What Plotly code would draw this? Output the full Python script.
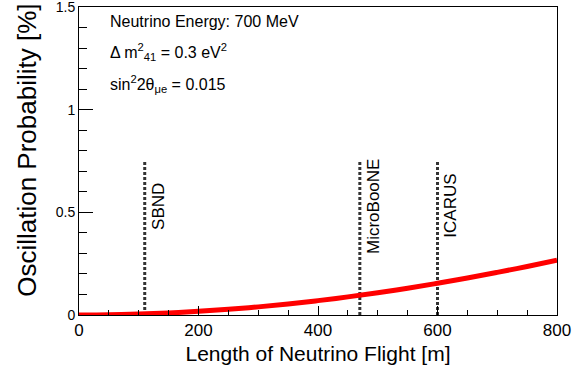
import plotly.graph_objects as go

# flight length [m] and oscillation probability [%]
length_m = [0, 50, 100, 150, 200, 250, 300, 350, 400, 450, 500, 550, 600, 650, 700, 750, 800]
prob_pct = [0.0, 0.0011, 0.0044, 0.0100, 0.0177, 0.0276, 0.0396, 0.0538, 0.0700,
            0.0882, 0.1084, 0.1305, 0.1544, 0.1800, 0.2074, 0.2364, 0.2669]

# detectors
det_names = ["SBND", "MicroBooNE", "ICARUS"]
det_pos = [110, 470, 600]
det_top = 0.75

FONT = "Liberation Sans, Arial, sans-serif"

fig = go.Figure()

for name, xpos in zip(det_names, det_pos):
    fig.add_trace(go.Scatter(
        x=[xpos, xpos], y=[0, det_top],
        mode="lines",
        line=dict(color="#333333", width=3, dash="3px,2px"),
        hoverinfo="none"))
    fig.add_annotation(
        x=xpos, y=0.53, xref="x", yref="y",
        text=name, textangle=-90, showarrow=False,
        xshift=13, font=dict(family=FONT, size=17, color="black"))

fig.add_trace(go.Scatter(
    x=length_m, y=prob_pct,
    mode="lines",
    line=dict(color="red", width=5, shape="spline"),
    hoverinfo="none"))

# info text
info = ["Neutrino Energy: 700 MeV",
        "Δ m<sup>2</sup><sub>41</sub> = 0.3 eV<sup>2</sup>",
        "sin<sup>2</sup>2θ<sub>μe</sub> = 0.015"]
info_y = [1.427, 1.281, 1.125]
for t, yy in zip(info, info_y):
    fig.add_annotation(
        x=48, y=yy, xref="x", yref="y",
        text=t, showarrow=False, xanchor="left", yanchor="middle",
        font=dict(family=FONT, size=16, color="black"))

# y title as annotation (ROOT puts it a bit above centre)
fig.add_annotation(
    x=-0.109, y=0.536, xref="paper", yref="paper",
    text="Oscillation Probability [%]", textangle=-90, showarrow=False,
    xanchor="center", yanchor="middle",
    font=dict(family=FONT, size=26, color="black"))

fig.update_layout(
    width=580, height=370,
    showlegend=False,
    paper_bgcolor="white", plot_bgcolor="white",
    margin=dict(l=79, r=23, t=7, b=55),
    font=dict(family=FONT, color="black"),
    xaxis=dict(
        range=[0, 800], dtick=200, tick0=0,
        showgrid=False, zeroline=False,
        showline=True, linecolor="black", linewidth=1, mirror=True,
        ticks="inside", ticklen=9, tickcolor="black",
        minor=dict(dtick=50, ticks="inside", ticklen=5, tickcolor="black"),
        tickfont=dict(family=FONT, size=17),
        ticklabeloverflow="allow",
        title=dict(text="Length of Neutrino Flight [m]",
                   font=dict(family=FONT, size=21), standoff=6),
        automargin=False),
    yaxis=dict(
        range=[0, 1.5], dtick=0.5, tick0=0,
        showgrid=False, zeroline=False,
        showline=True, linecolor="black", linewidth=1, mirror=True,
        ticks="inside", ticklen=14, tickcolor="black",
        minor=dict(dtick=0.1, ticks="inside", ticklen=8, tickcolor="black"),
        tickfont=dict(family=FONT, size=14),
        ticklabeloverflow="allow",
        automargin=False),
)

fig.write_html("out.html", config={"displayModeBar": False},
               post_script="document.body.style.margin='0';")
